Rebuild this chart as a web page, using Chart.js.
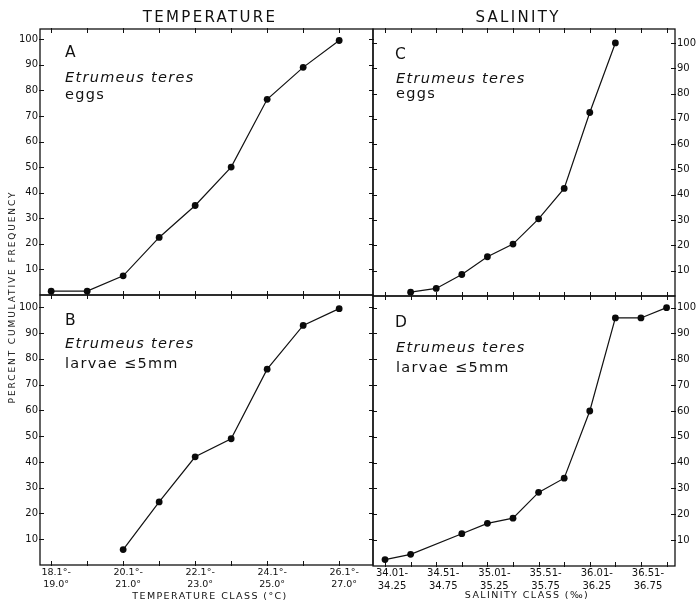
<!DOCTYPE html>
<html><head><meta charset="utf-8">
<script src="https://cdn.jsdelivr.net/npm/chart.js@4.4.1/dist/chart.umd.min.js"></script>
<style>
html,body{margin:0;padding:0;background:#fff;}
#wrap{position:relative;width:698px;height:602px;overflow:hidden;font-family:"DejaVu Sans",sans-serif;color:#111;}
canvas{position:absolute;left:0;top:0;}
.t{position:absolute;white-space:nowrap;line-height:1;}
.big{font-size:15.5px;}
.sp{font-size:14.5px;font-style:italic;letter-spacing:1.3px;}
.st{font-size:14.5px;letter-spacing:1.3px;}
.hd{font-size:15px;letter-spacing:2.3px;text-align:center;width:240px;}
.ax{font-size:9.5px;letter-spacing:1.4px;text-align:center;width:240px;}
</style></head><body>
<div id="wrap">
<canvas id="cA" width="698" height="602"></canvas>
<canvas id="cB" width="698" height="602"></canvas>
<canvas id="cC" width="698" height="602"></canvas>
<canvas id="cD" width="698" height="602"></canvas>

<div class="t hd" style="left:90px;top:10px;">TEMPERATURE</div>
<div class="t hd" style="left:398px;top:10px;">SALINITY</div>

<div class="t ax" style="left:0px;top:292px;width:230px;transform-origin:115px 5px;transform:translate(-102px,0) rotate(-90deg);font-size:9px;letter-spacing:1.9px;">PERCENT CUMULATIVE FREQUENCY</div>

<div class="t ax" style="left:90px;top:591px;">TEMPERATURE CLASS (°C)</div>
<div class="t ax" style="left:407px;top:590px;">SALINITY CLASS (‰)</div>

<div class="t big" style="left:65px;top:45px;">A</div>
<div class="t sp" style="left:65px;top:70px;">Etrumeus teres</div>
<div class="t st" style="left:65px;top:86.5px;">eggs</div>

<div class="t big" style="left:65px;top:313px;">B</div>
<div class="t sp" style="left:65px;top:336px;">Etrumeus teres</div>
<div class="t st" style="left:65px;top:356px;">larvae ≤5mm</div>

<div class="t big" style="left:395px;top:47px;">C</div>
<div class="t sp" style="left:396px;top:71px;">Etrumeus teres</div>
<div class="t st" style="left:396px;top:85.5px;">eggs</div>

<div class="t big" style="left:395px;top:315px;">D</div>
<div class="t sp" style="left:396px;top:340px;">Etrumeus teres</div>
<div class="t st" style="left:396px;top:360px;">larvae ≤5mm</div>
</div>
<script>
// ---- data ----
const tempLow  = ['18.1°','19.1°','20.1°','21.1°','22.1°','23.1°','24.1°','25.1°','26.1°'];
const tempHigh = ['19.0°','20.0°','21.0°','22.0°','23.0°','24.0°','25.0°','26.0°','27.0°'];
const salLow   = ['34.01','34.26','34.51','34.76','35.01','35.26','35.51','35.76','36.01','36.26','36.51','36.76'];
const salHigh  = ['34.25','34.50','34.75','35.00','35.25','35.50','35.75','36.00','36.25','36.50','36.75','37.00'];
const eggsTemp   = [1.5, 1.5, 7.5, 22.5, 35, 50, 76.5, 89, 99.5];
const larvaeTemp = [null, null, 6, 24.5, 42, 49, 76, 93, 99.5];
const eggsSal    = [null, 1.5, 3, 8.5, 15.5, 20.5, 30.5, 42.5, 72.5, 100, null, null];
const larvaeSal  = [2.5, 4.5, null, 12.5, 16.5, 18.5, 28.5, 34, 60, 96, 96, 100];
const yTicks = [10, 20, 30, 40, 50, 60, 70, 80, 90, 100];

const INK = '#111';
const framePlugin = {
  id: 'frame',
  beforeDatasetsDraw(chart) {
    const {ctx, chartArea: a, scales: {x, y}} = chart;
    ctx.save();
    ctx.strokeStyle = INK;
    ctx.lineWidth = 1.3;
    ctx.strokeRect(a.left, a.top, a.right - a.left, a.bottom - a.top);
    ctx.lineWidth = 1;
    ctx.beginPath();
    x.ticks.forEach(t => {
      const px = Math.round(x.getPixelForValue(t.value)) + 0.5;
      ctx.moveTo(px, a.top - 1); ctx.lineTo(px, a.top + 4);
      ctx.moveTo(px, a.bottom + 1); ctx.lineTo(px, a.bottom - 4);
    });
    y.ticks.forEach(t => {
      const py = Math.round(y.getPixelForValue(t.value)) + 0.5;
      ctx.moveTo(a.left - 1, py); ctx.lineTo(a.left + 4, py);
      ctx.moveTo(a.right + 1, py); ctx.lineTo(a.right - 4, py);
    });
    ctx.stroke();
    ctx.restore();
  }
};

function makePanel(id, o) {
  const pts = o.values.map((v, i) => ({x: i, y: v}));
  return new Chart(document.getElementById(id), {
    type: 'line',
    data: {datasets: [{
      data: pts, borderColor: INK, borderWidth: 1.2, tension: 0, spanGaps: true, clip: false,
      pointRadius: 3.4, pointBackgroundColor: '#0a0a0a', pointBorderWidth: 0
    }]},
    options: {
      responsive: false, animation: false, devicePixelRatio: 1,
      layout: {padding: o.pad},
      plugins: {legend: {display: false}, tooltip: {enabled: false}},
      scales: {
        x: {
          type: 'linear', min: o.xmin, max: o.xmax,
          afterBuildTicks: s => { s.ticks = o.low.map((_, i) => ({value: i})); },
          afterFit: s => { s.height = o.xh; },
          grid: {display: false, drawTicks: false}, border: {display: false},
          ticks: {
            display: o.xlabels, autoSkip: false, maxRotation: 0, minRotation: 0,
            padding: 1, labelOffset: o.lo, color: INK,
            font: {family: 'DejaVu Sans', size: o.xfs, lineHeight: 1.3},
            callback: v => (v % 2 === 0 ? [o.low[v] + '-', o.high[v]] : '')
          }
        },
        y: {
          position: o.ypos, min: 0, max: o.ymax,
          afterBuildTicks: s => { s.ticks = yTicks.map(v => ({value: v})); },
          afterFit: s => { s.width = o.yw; },
          grid: {display: false, drawTicks: false}, border: {display: false},
          ticks: {padding: 2, color: INK, font: {family: 'DejaVu Sans', size: 10}}
        }
      }
    },
    plugins: [framePlugin]
  });
}

makePanel('cA', {values: eggsTemp, low: tempLow, high: tempHigh, xmin: -0.31, xmax: 8.94,
  pad: {left: 0, right: 325, top: 29, bottom: 307}, xh: 0, xlabels: false, lo: 5, xfs: 9.5,
  ypos: 'left', yw: 40, ymax: 104});
makePanel('cB', {values: larvaeTemp, low: tempLow, high: tempHigh, xmin: -0.31, xmax: 8.94,
  pad: {left: 0, right: 325, top: 295, bottom: 0}, xh: 37, xlabels: true, lo: 5, xfs: 9.5,
  ypos: 'left', yw: 40, ymax: 104.8});
makePanel('cC', {values: eggsSal, low: salLow, high: salHigh, xmin: -0.47, xmax: 11.33,
  pad: {left: 373, right: 0, top: 29, bottom: 306}, xh: 0, xlabels: false, lo: 7, xfs: 10,
  ypos: 'right', yw: 23, ymax: 105.5});
makePanel('cD', {values: larvaeSal, low: salLow, high: salHigh, xmin: -0.47, xmax: 11.33,
  pad: {left: 373, right: 0, top: 296, bottom: 0}, xh: 36, xlabels: true, lo: 7, xfs: 10,
  ypos: 'right', yw: 23, ymax: 104.5});
</script>
</body></html>
